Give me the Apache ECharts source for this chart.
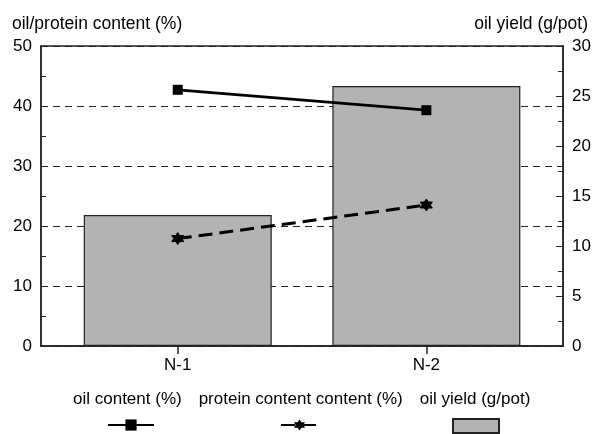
<!DOCTYPE html>
<html>
<head>
<meta charset="utf-8">
<script src="https://cdn.jsdelivr.net/npm/echarts@6/dist/echarts.min.js"></script>
<style>
  html, body { margin: 0; padding: 0; background: #fff; }
  #chart { width: 594px; height: 434px; }
</style>
</head>
<body>
<div id="chart"></div>
<script>
const categories = ["N-1", "N-2"];
const oilContent = [42.7, 39.3];       // %
const proteinContent = [17.9, 23.5];   // %
const oilYield = [13.1, 26.0];         // g/pot

const FONT = "Liberation Sans, Arial, sans-serif";
// six-pointed star as a single outline so it fills solid
const star = "path://M0,-10 L2.89,-5 L8.66,-5 L5.77,0 L8.66,5 L2.89,5 L0,10 L-2.89,5 L-8.66,5 L-5.77,0 L-8.66,-5 L-2.89,-5 Z";

const toXY = arr => arr.map((v, i) => [i, v]);

const chart = echarts.init(document.getElementById("chart"));

chart.setOption({
  animation: false,
  textStyle: { fontFamily: FONT, color: "#000" },
  title: [
    { text: "oil/protein content (%)", left: 7, top: 10,
      textStyle: { fontFamily: FONT, fontSize: 17.5, fontWeight: "normal", color: "#000" } },
    { text: "oil yield (g/pot)", right: 1, top: 10,
      textStyle: { fontFamily: FONT, fontSize: 17.5, fontWeight: "normal", color: "#000" } }
  ],
  grid: { left: 41, right: 29, top: 46, bottom: 88, show: true, borderColor: "#222", borderWidth: 1.5 },
  legend: [
    // labels only
    { data: ["oil content (%)", "protein content content (%)", "oil yield (g/pot)"],
      left: 62, top: 386, itemWidth: 0, itemHeight: 0, itemGap: 11, selectedMode: false,
      textStyle: { fontFamily: FONT, fontSize: 17, color: "#000" } },
    // symbols only
    { data: ["oil content (%)"], left: 102, top: 413, itemWidth: 46, itemHeight: 14,
      formatter: () => "", selectedMode: false },
    { data: ["protein content content (%)"], left: 275, top: 413, itemWidth: 37, itemHeight: 14,
      formatter: () => "", selectedMode: false },
    { data: [{ name: "oil yield (g/pot)", icon: "rect" }], left: 447, top: 413, itemWidth: 46, itemHeight: 14,
      formatter: () => "", selectedMode: false }
  ],
  xAxis: {
    type: "value",
    min: -0.55,
    max: 1.55,
    splitLine: { show: false },
    axisLine: { onZero: false, lineStyle: { color: "#222", width: 1.5 } },
    axisTick: { customValues: [0, 1], length: 8, lineStyle: { color: "#222", width: 1.5 } },
    axisLabel: { customValues: [0, 1], formatter: v => categories[Math.round(v)],
      fontSize: 17, color: "#000", margin: 11, fontFamily: FONT }
  },
  yAxis: [
    {
      type: "value", min: 0, max: 50, interval: 10, position: "left",
      axisLine: { show: true, onZero: false, lineStyle: { color: "#222", width: 1.5 } },
      axisTick: { show: true, inside: true, length: 5, lineStyle: { color: "#222" } },
      minorTick: { show: true, splitNumber: 2, length: 5, lineStyle: { color: "#222" } },
      axisLabel: { fontSize: 17, color: "#000", margin: 9, fontFamily: FONT },
      splitLine: { show: true, lineStyle: { color: "#222", width: 1, type: [7, 5] } }
    },
    {
      type: "value", min: 0, max: 30, interval: 5, position: "right",
      axisLine: { show: true, onZero: false, lineStyle: { color: "#222", width: 1.5 } },
      axisTick: { show: true, inside: true, length: 7, lineStyle: { color: "#222" } },
      minorTick: { show: true, splitNumber: 2, length: 5, lineStyle: { color: "#222" } },
      axisLabel: { fontSize: 17, color: "#000", margin: 9, fontFamily: FONT },
      splitLine: { show: false }
    }
  ],
  series: [
    {
      name: "oil yield (g/pot)",
      type: "bar",
      yAxisIndex: 1,
      barWidth: 188,
      data: toXY(oilYield),
      itemStyle: { color: "#b3b3b3", borderColor: "#222", borderWidth: 1.2 }
    },
    {
      name: "oil content (%)",
      type: "line",
      yAxisIndex: 0,
      data: toXY(oilContent),
      symbol: "rect",
      symbolSize: 10,
      itemStyle: { color: "#000" },
      lineStyle: { color: "#000", width: 2.8 }
    },
    {
      name: "protein content content (%)",
      type: "line",
      yAxisIndex: 0,
      data: toXY(proteinContent),
      symbol: star,
      symbolSize: 12,
      itemStyle: { color: "#000", borderColor: "#000" },
      lineStyle: { color: "#000", width: 3, type: [14, 7] }
    }
  ]
});
</script>
</body>
</html>
